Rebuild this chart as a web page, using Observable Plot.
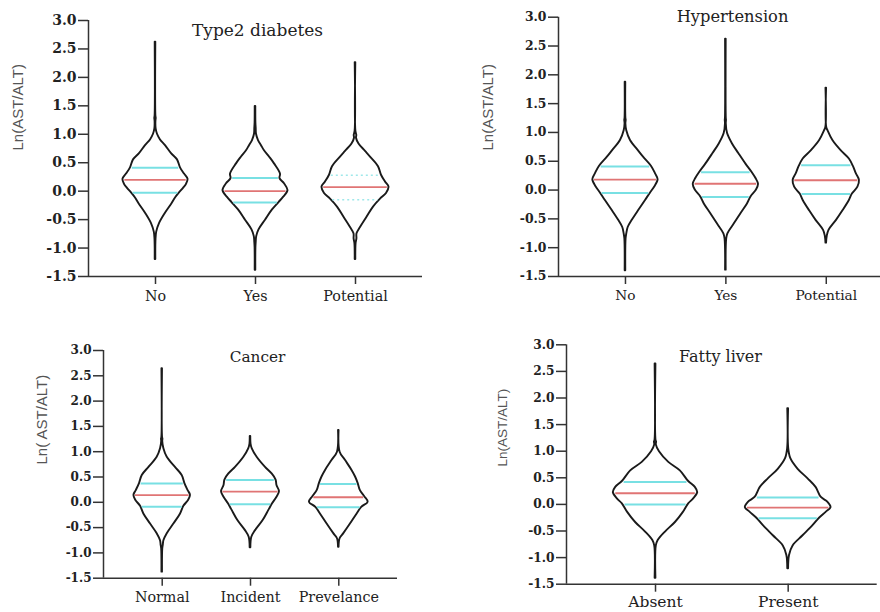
<!DOCTYPE html>
<html>
<head>
<meta charset="utf-8">
<script src="https://cdn.jsdelivr.net/npm/d3@7"></script>
<script src="https://cdn.jsdelivr.net/npm/@observablehq/plot@0.6"></script>
<style>
  body { margin: 0; background: #fff; }
  #wrap { position: relative; width: 880px; height: 612px; overflow: hidden; background: #fff; }
  .panel { position: absolute; }
  .panel svg { overflow: visible; }
  .panel [aria-label^="y-axis"] text { font-family: "DejaVu Serif"; font-weight: bold; fill: #222; }
  .panel [aria-label^="x-axis"] text { font-family: "DejaVu Serif"; fill: #222; }
  .panel [aria-label^="y-axis"] line, .panel [aria-label^="y-axis"] path,
  .panel [aria-label^="x-axis"] line, .panel [aria-label^="x-axis"] path { stroke: #333; stroke-width: 1.5px; }
  #p1 [aria-label^="y-axis"] text { font-size: 14px; }
  #p2 [aria-label^="y-axis"] text { font-size: 12.4px; }
  #p3 [aria-label^="y-axis"] text { font-size: 12px; }
  #p4 [aria-label^="y-axis"] text { font-size: 12.2px; }
  #p1 [aria-label^="x-axis"] text { font-size: 14.3px; }
  #p2 [aria-label^="x-axis"] text { font-size: 13.7px; }
  #p3 [aria-label^="x-axis"] text { font-size: 14.3px; }
  #p4 [aria-label^="x-axis"] text { font-size: 15.5px; }
</style>
</head>
<body>
<div id="wrap"></div>
<script>
// ---------- shared axis values ----------
const yTicks = [-1.5, -1.0, -0.5, 0.0, 0.5, 1.0, 1.5, 2.0, 2.5, 3.0];
const yLabel = "Ln(AST/ALT)";
const yLabelCancer = "Ln( AST/ALT)";

// ---------- Type2 diabetes ----------
// violin profiles: [Ln(AST/ALT) value, half-width in category units]
const t2dTitle = "Type2 diabetes";
const t2dCategories = ["No", "Yes", "Potential"];
const t2dNo = [[2.62,.003],[1.32,.004],[1.28,.007],[1.22,.004],[1.1,.006],[1.0,.02],[0.9,.05],[0.8,.1],[0.66,.16],[0.55,.22],[0.41,.25],[0.3,.29],[0.21,.325],[0.12,.31],[0.05,.28],[-0.03,.24],[-0.12,.2],[-0.22,.165],[-0.4,.095],[-0.57,.04],[-0.72,.012],[-0.85,.005],[-1.2,.003]];
const t2dYes = [[1.49,.003],[1.2,.004],[1.1,.007],[1.0,.01],[0.89,.03],[0.8,.06],[0.71,.09],[0.6,.14],[0.48,.19],[0.3,.25],[0.22,.245],[0.13,.29],[0.01,.325],[-0.11,.28],[-0.2,.235],[-0.33,.17],[-0.51,.1],[-0.68,.035],[-0.8,.012],[-0.9,.007],[-1.0,.004],[-1.39,.003]];
const t2dPotential = [[2.26,.003],[1.05,.004],[0.98,.013],[0.93,.01],[0.83,.035],[0.7,.1],[0.6,.15],[0.43,.23],[0.28,.26],[0.16,.3],[0.07,.335],[-0.04,.31],[-0.14,.25],[-0.28,.18],[-0.46,.115],[-0.64,.05],[-0.75,.015],[-0.84,.014],[-0.92,.006],[-1.2,.003]];
const t2dQ1 = [-0.03, -0.2, -0.15];
const t2dMedian = [0.2, 0.0, 0.07];
const t2dQ3 = [0.41, 0.23, 0.28];

// ---------- Hypertension ----------
const htnTitle = "Hypertension";
const htnCategories = ["No", "Yes", "Potential"];
const htnNo = [[1.87,.003],[1.25,.004],[1.21,.007],[1.15,.004],[1.03,.013],[0.86,.05],[0.68,.13],[0.57,.18],[0.41,.26],[0.28,.3],[0.18,.325],[0.05,.29],[-0.05,.25],[-0.18,.2],[-0.36,.13],[-0.53,.066],[-0.65,.027],[-0.76,.013],[-0.85,.006],[-1.4,.003]];
const htnYes = [[2.62,.003],[1.25,.004],[1.21,.006],[1.15,.004],[0.98,.017],[0.8,.066],[0.63,.13],[0.45,.2],[0.31,.26],[0.2,.3],[0.1,.325],[0.0,.305],[-0.12,.25],[-0.24,.215],[-0.41,.15],[-0.59,.083],[-0.76,.02],[-0.85,.008],[-1.39,.003]];
const htnPotential = [[1.77,.003],[1.09,.004],[1.03,.017],[0.86,.066],[0.68,.15],[0.54,.23],[0.41,.27],[0.28,.3],[0.17,.33],[0.05,.315],[-0.07,.26],[-0.18,.23],[-0.36,.166],[-0.53,.1],[-0.7,.027],[-0.8,.01],[-0.92,.003]];
const htnQ1 = [-0.05, -0.12, -0.07];
const htnMedian = [0.18, 0.11, 0.17];
const htnQ3 = [0.41, 0.31, 0.43];

// ---------- Cancer ----------
const cancerTitle = "Cancer";
const cancerCategories = ["Normal", "Incident", "Prevelance"];
const cancerNormal = [[2.64,.003],[1.28,.004],[1.25,.008],[1.2,.006],[1.06,.019],[0.89,.057],[0.69,.15],[0.53,.226],[0.37,.257],[0.23,.294],[0.14,.32],[0.04,.3],[-0.08,.245],[-0.23,.208],[-0.43,.132],[-0.62,.057],[-0.76,.019],[-0.85,.012],[-0.92,.006],[-1.38,.003]];
const cancerIncident = [[1.30,.003],[1.15,.006],[1.06,.019],[0.89,.075],[0.69,.17],[0.56,.245],[0.44,.29],[0.33,.3],[0.21,.328],[0.1,.3],[-0.03,.25],[-0.16,.208],[-0.36,.143],[-0.56,.057],[-0.69,.015],[-0.9,.004]];
const cancerPrevelance = [[1.42,.003],[0.99,.015],[0.83,.075],[0.63,.15],[0.5,.19],[0.37,.22],[0.23,.245],[0.11,.294],[0.0,.332],[-0.1,.26],[-0.23,.208],[-0.43,.132],[-0.62,.057],[-0.72,.015],[-0.89,.003]];
const cancerQ1 = [-0.09, -0.04, -0.1];
const cancerMedian = [0.14, 0.21, 0.1];
const cancerQ3 = [0.37, 0.44, 0.36];

// ---------- Fatty liver ----------
const fattyTitle = "Fatty liver";
const fattyCategories = ["Absent", "Present"];
const fattyAbsent = [[2.64,.003],[1.2,.004],[1.17,.008],[1.12,.006],[0.99,.03],[0.79,.1],[0.63,.187],[0.43,.25],[0.32,.3],[0.22,.318],[0.1,.286],[0.01,.25],[-0.15,.21],[-0.34,.15],[-0.52,.075],[-0.68,.02],[-0.78,.006],[-1.39,.003]];
const fattyPresent = [[1.80,.003],[1.05,.004],[0.86,.02],[0.66,.075],[0.48,.15],[0.32,.21],[0.13,.25],[0.04,.3],[-0.06,.323],[-0.15,.286],[-0.26,.236],[-0.4,.187],[-0.59,.112],[-0.78,.037],[-0.96,.01],[-1.21,.003]];
const fattyQ1 = [0.0, -0.26];
const fattyMedian = [0.21, -0.06];
const fattyQ3 = [0.42, 0.13];

// ---------- drawing ----------
function hwAt(profile, v) {
  for (let k = 0; k < profile.length - 1; k++) {
    const [v0, w0] = profile[k], [v1, w1] = profile[k + 1];
    if (v <= v0 && v >= v1) return w0 + (w1 - w0) * (v - v0) / (v1 - v0);
  }
  return 0;
}

function drawPanel(cfg) {
  const violins = cfg.profiles.flatMap((p, i) => p.map(([v, w]) => ({i, v, w})));
  const quart = [], med = [];
  cfg.cats.forEach((c, i) => {
    for (const q of [cfg.q1[i], cfg.q3[i]]) {
      const w = hwAt(cfg.profiles[i], q) * 0.93;
      quart.push({i, v: q, x1: i - w, x2: i + w, dashed: i === cfg.dashedIndex});
    }
    const wm = hwAt(cfg.profiles[i], cfg.median[i]) * 0.95;
    med.push({i, v: cfg.median[i], x1: i - wm, x2: i + wm});
  });
  const m = cfg.margin;
  const frameCx = (m.left + cfg.width - m.right) / 2;
  const frameCy = (m.top + cfg.height - m.bottom) / 2;
  const chart = Plot.plot({
    width: cfg.width, height: cfg.height,
    marginTop: m.top, marginBottom: m.bottom, marginLeft: m.left, marginRight: m.right,
    style: {background: "transparent", fontFamily: "DejaVu Serif"},
    x: {domain: cfg.xDomain, ticks: cfg.cats.map((_, i) => i), tickFormat: i => cfg.cats[i],
        tickSize: 8, tickPadding: cfg.xPad, label: null},
    y: {domain: [yTicks[0], yTicks[yTicks.length - 1]], ticks: yTicks, tickFormat: d => d.toFixed(1),
        tickSize: 10, tickPadding: 2, label: null},
    marks: [
      Plot.ruleY([yTicks[0]], {stroke: "#333", strokeWidth: 1.5}),
      Plot.ruleX([cfg.xDomain[0]], {stroke: "#333", strokeWidth: 1.5}),
      Plot.areaX(violins, {y: "v", x1: d => d.i - d.w, x2: d => d.i + d.w, z: "i",
        curve: "catmull-rom", fill: "white", stroke: "#1a1a1a", strokeWidth: 1.9}),
      Plot.ruleY(quart.filter(d => !d.dashed), {y: "v", x1: "x1", x2: "x2", stroke: "#78e0e3", strokeWidth: 2}),
      Plot.ruleY(quart.filter(d => d.dashed), {y: "v", x1: "x1", x2: "x2", stroke: "#9fe8ea", strokeWidth: 1.6, strokeDasharray: "2,3"}),
      Plot.ruleY(med, {y: "v", x1: "x1", x2: "x2", stroke: "#e07474", strokeWidth: 1.8}),
      Plot.text([cfg.title], {frameAnchor: "top", lineAnchor: "middle",
        dx: cfg.titleX - frameCx, dy: cfg.titleY - m.top,
        fontFamily: "DejaVu Serif", fontSize: cfg.titleSize, fill: "#222"}),
      Plot.text([cfg.yLabel], {frameAnchor: "left", lineAnchor: "middle", rotate: -90,
        dx: cfg.yLabelX - m.left, dy: cfg.yLabelY - frameCy,
        fontFamily: "Liberation Sans", fontSize: cfg.yLabelSize, fill: "#555"})
    ]
  });
  const div = document.createElement("div");
  div.className = "panel";
  div.id = cfg.id;
  div.style.left = cfg.left + "px";
  div.style.top = cfg.top + "px";
  div.appendChild(chart);
  document.getElementById("wrap").appendChild(div);
}

drawPanel({
  id: "p1", left: 0, top: 0, width: 440, height: 306,
  margin: {top: 20, bottom: 30, left: 88, right: 18},
  xDomain: [-0.67, 2.67], xPad: 6,
  cats: t2dCategories, profiles: [t2dNo, t2dYes, t2dPotential],
  q1: t2dQ1, median: t2dMedian, q3: t2dQ3, dashedIndex: 2,
  title: t2dTitle, titleX: 257, titleY: 30, titleSize: 17,
  yLabel: yLabel, yLabelX: 18, yLabelY: 150, yLabelSize: 15
});
drawPanel({
  id: "p2", left: 440, top: 0, width: 440, height: 306,
  margin: {top: 16.7, bottom: 30, left: 118, right: 0},
  xDomain: [-0.667, 2.54], xPad: 6,
  cats: htnCategories, profiles: [htnNo, htnYes, htnPotential],
  q1: htnQ1, median: htnMedian, q3: htnQ3, dashedIndex: -1,
  title: htnTitle, titleX: 292, titleY: 16, titleSize: 16.3,
  yLabel: yLabel, yLabelX: 48, yLabelY: 150, yLabelSize: 15
});
drawPanel({
  id: "p3", left: 0, top: 306, width: 440, height: 306,
  margin: {top: 44, bottom: 34.3, left: 103, right: 43},
  xDomain: [-0.665, 2.665], xPad: 6,
  cats: cancerCategories, profiles: [cancerNormal, cancerIncident, cancerPrevelance],
  q1: cancerQ1, median: cancerMedian, q3: cancerQ3, dashedIndex: -1,
  title: cancerTitle, titleX: 257, titleY: 50.7, titleSize: 15.3,
  yLabel: yLabelCancer, yLabelX: 42, yLabelY: 158, yLabelSize: 15
});
drawPanel({
  id: "p4", left: 440, top: 306, width: 440, height: 306,
  margin: {top: 38.3, bottom: 28.3, left: 126, right: 3.3},
  xDomain: [-0.671, 1.671], xPad: 4,
  cats: fattyCategories, profiles: [fattyAbsent, fattyPresent],
  q1: fattyQ1, median: fattyMedian, q3: fattyQ3, dashedIndex: -1,
  title: fattyTitle, titleX: 280, titleY: 50, titleSize: 16,
  yLabel: yLabel, yLabelX: 62, yLabelY: 160, yLabelSize: 13.5
});
</script>
</body>
</html>
